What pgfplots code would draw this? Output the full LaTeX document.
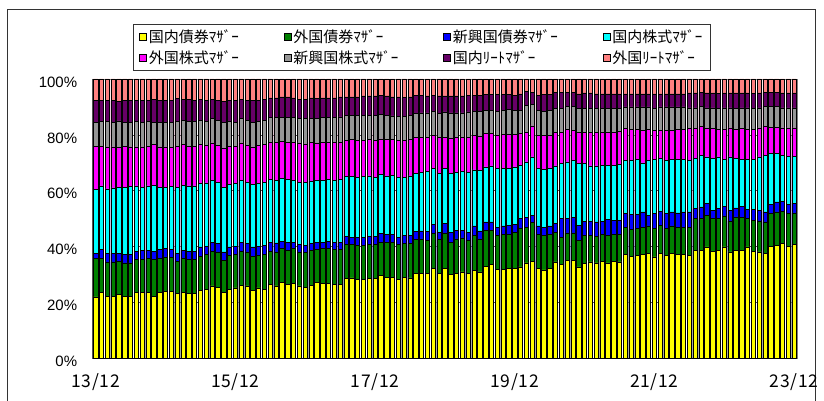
\documentclass[border=0pt]{standalone}
\usepackage{pgfplots}
\pgfplotsset{compat=1.18}
\usepackage{pgfplotstable}
\usepackage{fontspec}
\setmainfont{Liberation Sans}
\newfontfamily\jp{Noto Sans CJK JP}
\definecolor{cY}{HTML}{FFFF00}
\definecolor{cG}{HTML}{008000}
\definecolor{cB}{HTML}{0000FF}
\definecolor{cC}{HTML}{00FFFF}
\definecolor{cM}{HTML}{FF00FF}
\definecolor{cS}{HTML}{969696}
\definecolor{cP}{HTML}{660066}
\definecolor{cR}{HTML}{FF8080}
\pgfplotsset{sqlegend/.style={legend image code/.code={\draw[##1,draw=black,line width=0.5pt] (0pt,-3.5pt) rectangle (7pt,3.5pt);}}}
% cumulative tops (%) of each band, bottom to top; T = 100
\pgfplotstableread{
x Y G B C M S P T
0 22.0 35.9 37.5 60.5 76.0 84.6 92.4 100
1 23.5 35.7 38.9 61.7 76.0 84.8 92.4 100
2 22.3 34.5 37.5 60.7 75.7 84.8 92.3 100
3 22.3 34.5 37.5 61.0 75.7 84.6 92.3 100
4 22.8 34.7 37.5 61.3 75.4 85.0 92.1 100
5 22.3 34.2 37.1 61.3 75.8 84.6 92.4 100
6 22.3 34.2 37.1 61.6 75.7 84.6 92.4 100
7 23.5 35.4 38.4 61.7 75.7 84.8 92.4 100
8 23.5 35.4 38.7 61.3 75.7 84.6 92.3 100
9 23.5 35.7 38.7 61.7 76.0 84.8 92.4 100
10 22.3 35.3 38.4 61.9 76.5 84.6 92.6 100
11 23.5 35.7 38.9 61.3 75.7 84.6 92.3 100
12 24.0 36.3 39.3 61.3 75.7 84.4 92.3 100
13 24.0 36.0 38.9 61.6 75.4 84.6 92.3 100
14 23.2 34.7 37.7 61.3 76.0 84.8 93.0 100
15 23.7 35.7 38.7 61.9 76.5 85.2 92.7 100
16 23.2 35.4 38.4 61.7 76.0 84.8 92.7 100
17 23.2 35.4 38.4 61.7 76.0 84.8 92.4 100
18 24.3 36.6 39.9 62.5 76.5 85.2 92.7 100
19 24.7 37.1 40.2 62.8 76.3 84.8 92.4 100
20 25.9 38.3 41.4 63.7 77.1 85.8 92.6 100
21 25.5 38.1 41.1 63.1 76.3 85.2 92.4 100
22 23.5 35.1 38.1 61.3 75.3 84.4 92.0 100
23 24.7 36.9 39.9 62.3 76.0 84.8 92.4 100
24 25.2 37.1 40.2 62.5 76.0 84.6 92.4 100
25 26.1 38.3 41.6 63.7 77.1 85.8 92.6 100
26 25.9 38.1 41.1 63.1 76.3 85.2 92.4 100
27 24.3 36.5 39.9 62.3 75.7 84.6 92.4 100
28 25.2 36.9 40.2 62.5 76.3 84.8 92.4 100
29 24.7 37.1 40.5 63.1 76.5 85.2 92.7 100
30 26.5 38.4 41.6 64.1 77.4 86.3 93.2 100
31 25.9 38.1 41.3 63.7 77.4 86.3 93.2 100
32 27.1 39.3 41.9 64.3 77.7 86.3 93.6 100
33 26.4 38.7 41.4 64.0 77.4 86.3 93.6 100
34 26.7 39.3 41.4 63.7 77.2 86.2 93.2 100
35 25.9 38.1 40.7 63.1 77.1 85.8 92.7 100
36 25.5 37.8 40.5 63.1 76.8 85.8 92.7 100
37 26.1 38.7 41.1 63.5 77.2 86.0 93.2 100
38 27.1 39.0 41.6 63.7 77.1 86.0 93.0 100
39 26.7 39.3 41.6 63.7 77.4 86.2 93.2 100
40 26.7 39.3 41.9 64.1 77.2 86.2 93.2 100
41 26.5 39.0 41.4 63.7 77.2 86.2 93.2 100
42 26.4 38.9 41.4 64.1 77.4 86.4 93.6 100
43 28.5 40.8 43.7 65.2 78.0 87.0 93.6 100
44 28.8 40.7 43.2 65.2 78.3 87.0 93.6 100
45 28.3 40.5 43.2 64.9 78.0 87.0 93.6 100
46 28.3 40.5 43.4 65.2 78.0 87.0 94.0 100
47 28.5 40.7 43.7 65.3 78.3 87.0 94.0 100
48 28.5 40.7 43.7 64.9 78.0 87.0 94.0 100
49 29.7 41.6 44.6 65.8 78.6 87.2 94.2 100
50 29.1 41.6 44.4 65.3 78.4 87.0 94.0 100
51 28.9 41.6 44.4 65.5 78.3 86.8 93.6 100
52 28.3 40.7 43.4 64.9 78.0 86.6 93.6 100
53 28.9 41.1 44.0 64.9 78.0 86.6 93.3 100
54 28.8 41.1 44.0 65.3 78.4 87.0 93.6 100
55 30.3 42.5 45.5 66.1 79.0 87.8 94.2 100
56 30.5 42.8 45.6 66.7 79.2 87.9 94.2 100
57 30.3 42.2 45.5 66.9 79.2 87.9 94.0 100
58 32.1 44.6 47.9 67.9 79.8 88.4 94.2 100
59 30.3 42.5 45.2 66.1 79.0 87.8 94.0 100
60 32.3 44.9 48.2 67.9 79.2 88.2 94.0 100
61 30.0 41.6 45.0 66.1 78.9 87.9 94.0 100
62 30.3 42.8 45.8 66.5 79.2 87.9 94.0 100
63 30.9 43.1 45.8 66.9 79.2 87.9 94.0 100
64 30.5 42.2 45.2 66.7 79.2 88.2 94.2 100
65 31.5 44.0 47.4 67.5 79.8 88.4 94.2 100
66 30.9 42.8 45.6 67.3 79.6 88.4 94.2 100
67 33.0 45.8 48.8 68.5 80.4 88.8 94.4 100
68 33.5 45.8 48.8 68.9 80.4 88.8 94.4 100
69 31.9 44.0 47.0 67.9 79.8 88.5 94.4 100
70 31.9 44.3 47.4 67.9 80.1 88.8 94.4 100
71 32.3 44.4 47.6 68.1 80.2 89.0 94.4 100
72 32.1 45.2 48.0 68.5 80.2 88.8 94.2 100
73 32.7 46.4 50.0 69.1 80.4 88.8 94.7 100
74 34.2 47.0 50.4 70.3 80.8 90.6 95.6 100
75 34.8 48.6 51.2 72.1 83.2 90.8 95.1 100
76 32.1 44.3 47.4 67.9 79.8 88.8 94.2 100
77 31.7 44.0 47.0 67.7 79.8 88.5 94.4 100
78 32.3 44.4 47.4 67.9 79.8 88.8 94.4 100
79 34.5 45.2 48.2 68.9 80.8 89.6 95.1 100
80 33.5 43.2 50.0 69.7 80.8 89.6 95.1 100
81 35.1 44.9 50.0 70.3 81.9 90.2 95.3 100
82 35.1 44.9 50.4 70.9 81.6 90.2 95.1 100
83 32.7 42.2 47.6 69.7 81.0 89.6 94.7 100
84 34.1 44.0 49.0 69.9 81.0 89.6 95.0 100
85 34.5 44.0 49.0 68.9 80.8 89.6 95.0 100
86 34.2 43.7 48.8 68.9 80.8 89.6 94.7 100
87 34.7 44.3 49.0 69.1 81.0 89.6 94.7 100
88 34.2 44.0 49.8 69.1 81.0 89.6 94.7 100
89 34.7 44.3 49.4 69.1 81.0 89.6 94.7 100
90 34.5 44.3 49.4 69.3 81.3 89.6 94.7 100
91 37.1 47.0 51.8 70.9 82.2 90.0 94.7 100
92 36.6 46.2 51.4 70.9 82.0 90.0 94.7 100
93 36.9 46.4 51.4 71.2 82.0 90.0 94.7 100
94 37.1 47.0 52.4 70.0 81.6 90.0 94.7 100
95 37.5 47.4 51.2 70.9 82.0 90.0 94.7 100
96 36.3 46.4 51.8 71.2 81.6 89.6 94.7 100
97 37.5 47.6 52.6 71.5 81.6 90.0 94.7 100
98 36.9 46.4 51.8 70.9 81.6 90.0 94.7 100
99 37.5 47.4 52.4 71.2 81.6 90.0 94.7 100
100 37.1 47.0 52.1 71.2 82.0 90.0 94.7 100
101 37.1 47.0 52.4 71.2 82.0 90.0 94.7 100
102 36.9 47.0 52.4 70.9 82.2 89.7 95.0 100
103 38.7 50.0 53.6 71.7 82.2 89.7 95.0 100
104 38.7 50.0 54.2 72.7 83.1 90.1 95.2 100
105 39.9 51.2 55.4 72.1 82.5 89.7 95.0 100
106 38.3 50.0 53.0 71.7 82.2 89.7 95.0 100
107 38.7 50.0 53.6 72.1 82.0 89.5 94.8 100
108 39.9 51.0 54.5 71.2 82.0 89.7 95.0 100
109 38.1 49.2 53.0 72.1 82.5 89.7 95.0 100
110 38.7 50.6 53.9 71.7 82.0 89.5 95.0 100
111 38.7 50.4 54.4 71.2 82.2 89.7 95.0 100
112 39.9 50.0 53.3 71.2 82.0 89.7 95.0 100
113 38.3 49.4 53.3 71.2 82.0 89.5 94.8 100
114 38.1 49.2 53.0 72.1 82.5 89.7 95.0 100
115 37.5 48.8 52.4 72.7 83.1 90.1 95.2 100
116 40.2 51.8 55.0 73.3 82.8 90.1 95.2 100
117 40.5 52.4 56.0 73.3 82.8 90.1 95.2 100
118 41.1 52.6 56.2 72.7 82.5 89.7 95.0 100
119 40.2 51.8 55.0 72.4 82.5 89.7 95.0 100
120 40.7 52.1 55.6 72.4 82.5 89.7 95.0 100
}\data
\begin{document}
\begin{tikzpicture}[x=1pt,y=1pt]
\useasboundingbox (0,0) rectangle (824,401);
\draw[black!80, line width=0.8pt] (7.3,0) -- (7.3,392) -- (815,392) -- (815,0);
\begin{axis}[
  at={(92.7pt,42.7pt)}, anchor=south west,
  scale only axis, width=704.3pt, height=279.3pt,
  xmin=-0.5, xmax=120.5, ymin=0, ymax=100,
  ybar, bar width=4.3pt, bar shift=0pt,
  xtick={0,24,48,72,96,120},
  xticklabels={13/12,15/12,17/12,19/12,21/12,23/12},
  ytick={0,20,40,60,80,100},
  yticklabels={0\%,20\%,40\%,60\%,80\%,100\%},
  tick style={draw=none},
  xticklabel style={font=\jp\fontsize{17.5}{20}\selectfont\addfontfeature{LetterSpace=4}, yshift=-8pt},
  yticklabel style={font=\fontsize{15}{18}\selectfont, xshift=-12pt, yshift=-3pt},
  ymajorgrids, major grid style={black!70, line width=0.7pt, dash pattern=on 2.5pt off 2pt},
  axis line style={black!50, line width=0.8pt},
  legend columns=4,
  legend style={at={(0.0572,1.197)}, anchor=north west, draw=black!80, line width=0.6pt,
    font=\jp\fontsize{15}{18}\selectfont, nodes={inner sep=2pt}, row sep=3pt,
    inner xsep=6pt, inner ysep=3pt,
    /tikz/every even column/.append style={column sep=43pt}},
  legend cell align=left,
]
\addlegendimage{sqlegend, fill=cY}\addlegendentry{国内債券ﾏｻﾞｰ}
\addlegendimage{sqlegend, fill=cG}\addlegendentry{外国債券ﾏｻﾞｰ}
\addlegendimage{sqlegend, fill=cB}\addlegendentry{新興国債券ﾏｻﾞｰ}
\addlegendimage{sqlegend, fill=cC}\addlegendentry{国内株式ﾏｻﾞｰ}
\addlegendimage{sqlegend, fill=cM}\addlegendentry{外国株式ﾏｻﾞｰ}
\addlegendimage{sqlegend, fill=cS}\addlegendentry{新興国株式ﾏｻﾞｰ}
\addlegendimage{sqlegend, fill=cP}\addlegendentry{国内ﾘｰﾄﾏｻﾞｰ}
\addlegendimage{sqlegend, fill=cR}\addlegendentry{外国ﾘｰﾄﾏｻﾞｰ}
\pgfplotsset{every axis plot/.append style={draw=black, line width=0.5pt, bar shift=0pt, forget plot}}
\addplot[fill=cR] table[x=x,y=T]{\data};
\addplot[fill=cP] table[x=x,y=P]{\data};
\addplot[fill=cS] table[x=x,y=S]{\data};
\addplot[fill=cM] table[x=x,y=M]{\data};
\addplot[fill=cC] table[x=x,y=C]{\data};
\addplot[fill=cB] table[x=x,y=B]{\data};
\addplot[fill=cG] table[x=x,y=G]{\data};
\addplot[fill=cY] table[x=x,y=Y]{\data};
\draw[black, line width=1pt] (rel axis cs:0,1) -- (rel axis cs:0,0) -- (rel axis cs:1,0);
\end{axis}
\end{tikzpicture}
\end{document}
